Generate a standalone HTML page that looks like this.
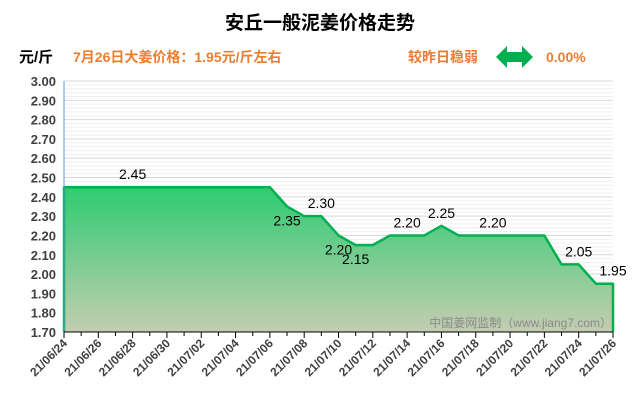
<!DOCTYPE html>
<html><head><meta charset="utf-8"><style>
body{margin:0;background:#fff;width:640px;height:410px;overflow:hidden;font-family:"Liberation Sans","Noto Sans CJK SC",sans-serif}
svg text{font-family:"Liberation Sans","Noto Sans CJK SC",sans-serif}
</style></head><body>
<svg id="c" width="640" height="410">
<defs><linearGradient id="g" x1="0" y1="0" x2="0" y2="1">
<stop offset="0" stop-color="#2ecc71"/><stop offset="1" stop-color="#c4cdb0"/></linearGradient></defs>
<text x="320" y="29" text-anchor="middle" font-size="19" font-weight="bold" fill="#000">安丘一般泥姜价格走势</text>
<text x="19" y="62" font-size="15" font-weight="bold" fill="#000">元/斤</text>
<text x="73" y="62" font-size="14" font-weight="bold" fill="#ed7d31">7月26日大姜价格：1.95元/斤左右</text>
<text x="408" y="62" font-size="14" font-weight="bold" fill="#ed7d31">较昨日稳弱</text>
<polygon points="496,57 507,46 507,52 522,52 522,46 533,57 522,68 522,62 507,62 507,68" fill="#00b050"/>
<text x="546" y="62" font-size="14" font-weight="bold" fill="#ed7d31">0.00%</text>
<g id="grid"></g><g id="area"></g><g id="axes"></g><g id="labels"></g>
<text x="612" y="327" text-anchor="end" font-size="12" fill="#8a8a8a">中国姜网监制（www.jiang7.com）</text>
</svg>
<script>
const dates=["21/06/24","21/06/25","21/06/26","21/06/27","21/06/28","21/06/29","21/06/30","21/07/01","21/07/02","21/07/03","21/07/04","21/07/05","21/07/06","21/07/07","21/07/08","21/07/09","21/07/10","21/07/11","21/07/12","21/07/13","21/07/14","21/07/15","21/07/16","21/07/17","21/07/18","21/07/19","21/07/20","21/07/21","21/07/22","21/07/23","21/07/24","21/07/25","21/07/26"];
const prices=[2.45,2.45,2.45,2.45,2.45,2.45,2.45,2.45,2.45,2.45,2.45,2.45,2.45,2.35,2.30,2.30,2.20,2.15,2.15,2.20,2.20,2.20,2.25,2.20,2.20,2.20,2.20,2.20,2.20,2.05,2.05,1.95,1.95];
const labelIdx=[4,13,15,16,17,20,22,25,30,32];
const labelAbove=[1,0,1,0,0,1,1,1,1,1];
const yTicks=["1.70","1.80","1.90","2.00","2.10","2.20","2.30","2.40","2.50","2.60","2.70","2.80","2.90","3.00"];
const X0=64,X1=613,Y0=332,Y1=81,VMIN=1.7,VMAX=3.0;
const x=i=>X0+(X1-X0)*i/(dates.length-1);
const y=v=>Y0-(Y0-Y1)*(v-VMIN)/(VMAX-VMIN);
const NS="http://www.w3.org/2000/svg";
function mk(t,a,p){const e=document.createElementNS(NS,t);for(const k in a)e.setAttribute(k,a[k]);p.appendChild(e);return e;}
const grid=document.getElementById('grid'),area=document.getElementById('area'),axes=document.getElementById('axes'),lab=document.getElementById('labels');
for(let v=VMIN;v<=VMAX+1e-6;v+=0.02){const l=mk('line',{x1:X0,x2:X1,y1:y(v),y2:y(v),stroke:Math.abs((v*10)-Math.round(v*10))<1e-3?'#d9d9d9':'#efefef','stroke-width':1},grid);

}
let pts=prices.map((v,i)=>x(i)+','+y(v)).join(' ');
const poly=mk('polygon',{points:X0+','+Y0+' '+pts+' '+X1+','+Y0,fill:'url(#g)'},area);


const line=mk('polyline',{points:X0+','+Y0+' '+pts+' '+X1+','+Y0,fill:'none',stroke:'#00b050','stroke-width':2.5,'stroke-linejoin':'round'},area);


const ya=mk('line',{x1:X0,x2:X0,y1:Y1,y2:Y0,stroke:'#5b9bd5'},axes);


const xa=mk('line',{x1:X0,x2:X1,y1:Y0,y2:Y0,stroke:'#000'},axes);


yTicks.forEach(t=>{const e=mk('text',{x:56,y:y(+t)+5,'text-anchor':'end','font-size':13,'font-weight':'bold',fill:'#404040'},axes);e.textContent=t;

});
dates.forEach((d,i)=>{const tk=mk('line',{x1:x(i),x2:x(i),y1:Y0,y2:Y0+(i%2?4:6),stroke:'#000'},axes);


if(i%2==0){const e=mk('text',{x:x(i)+4,y:Y0+12,'text-anchor':'end','font-size':12,'font-weight':'bold',fill:'#404040',transform:'rotate(-45 '+(x(i)+4)+' '+(Y0+12)+')'},axes);e.textContent=d;

}});
labelIdx.forEach((i,k)=>{const e=mk('text',{x:x(i),y:labelAbove[k]?y(prices[i])-8:y(prices[i])+19,'text-anchor':'middle','font-size':14,fill:'#000'},lab);e.textContent=prices[i].toFixed(2);

});
</script>
</body></html>
